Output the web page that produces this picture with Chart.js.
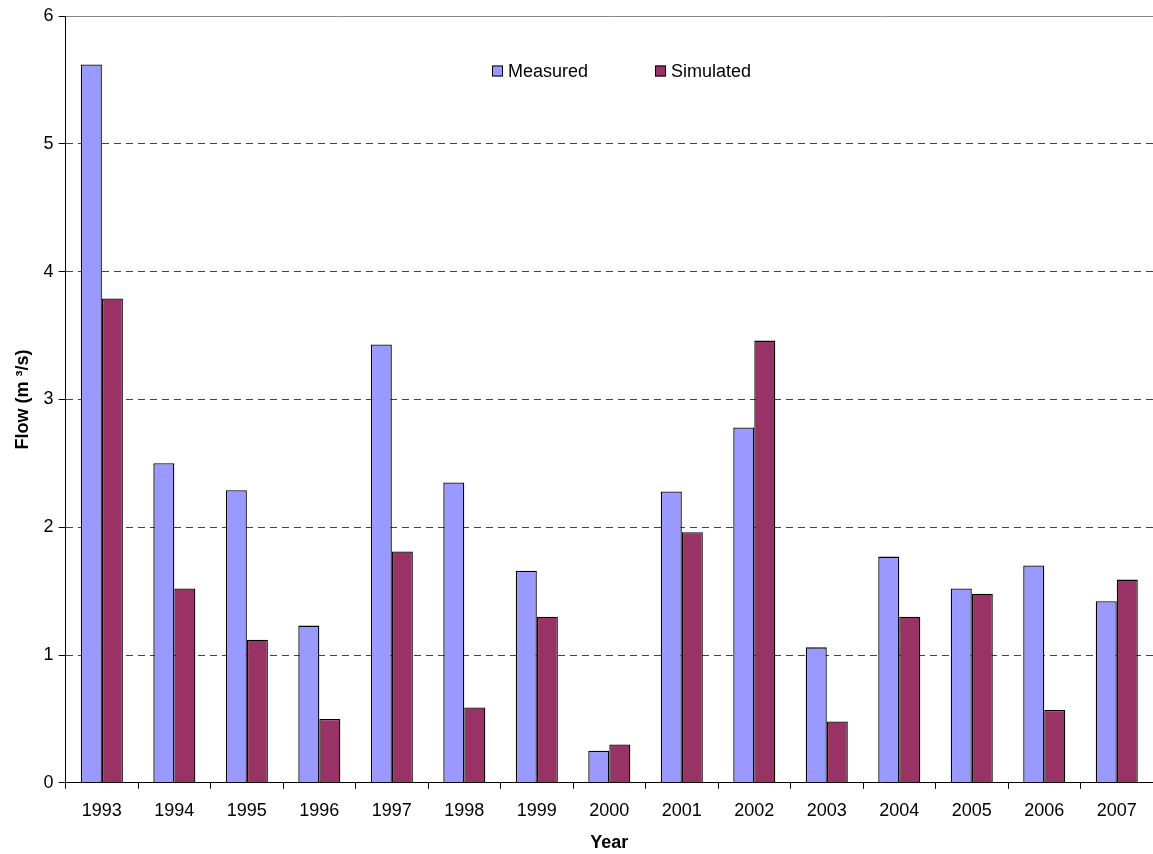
<!DOCTYPE html>
<html>
<head>
<meta charset="utf-8">
<script src="https://cdn.jsdelivr.net/npm/chart.js@4.4.1/dist/chart.umd.min.js"></script>
<style>
  html, body { margin: 0; padding: 0; background: #fff; }
</style>
</head>
<body>
<canvas id="chart" width="1153" height="854"></canvas>
<script>
const years = ['1993', '1994', '1995', '1996', '1997', '1998', '1999', '2000', '2001', '2002', '2003', '2004', '2005', '2006', '2007'];
const measured = [5.62, 2.50, 2.29, 1.23, 3.43, 2.35, 1.66, 0.25, 2.28, 2.78, 1.06, 1.77, 1.52, 1.70, 1.42];
const simulated = [3.79, 1.52, 1.12, 0.50, 1.81, 0.59, 1.30, 0.30, 1.96, 3.46, 0.48, 1.30, 1.48, 0.57, 1.59];
const yMin = 0, yMax = 6, yStep = 1;

const FONT = '"Liberation Sans", Arial, sans-serif';

// legend drawn inside the plot, near the top
const insideLegend = {
  id: 'insideLegend',
  afterDatasetsDraw(chart) {
    const ctx = chart.ctx;
    const area = chart.chartArea;
    const box = 11, gap = 5, spacing = 67;
    ctx.save();
    ctx.font = '18px ' + FONT;
    const items = chart.data.datasets.map(ds => ({ ds, w: box + gap + ctx.measureText(ds.label).width }));
    const total = items.reduce((s, it) => s + it.w, 0) + spacing * (items.length - 1);
    let x = Math.round((area.left + area.right) / 2 + 12 - total / 2);
    const y = area.top + 55;
    items.forEach(it => {
      ctx.fillStyle = it.ds.backgroundColor;
      ctx.fillRect(x, y - box / 2, box, box);
      ctx.strokeStyle = '#000';
      ctx.lineWidth = 1;
      ctx.strokeRect(x + 0.5, y - box / 2 + 0.5, box - 1, box - 1);
      ctx.fillStyle = '#000';
      ctx.textBaseline = 'middle';
      ctx.fillText(it.ds.label, x + box + gap, y + 1);
      x += it.w + spacing;
    });
    ctx.restore();
  }
};

new Chart(document.getElementById('chart'), {
  type: 'bar',
  data: {
    labels: years,
    datasets: [
      {
        label: 'Measured',
        data: measured,
        backgroundColor: '#9999FF',
        borderColor: '#000',
        borderWidth: 1.3,
        categoryPercentage: 0.58,
        barPercentage: 1.0
      },
      {
        label: 'Simulated',
        data: simulated,
        backgroundColor: '#993366',
        borderColor: '#000',
        borderWidth: 1.3,
        categoryPercentage: 0.58,
        barPercentage: 1.0
      }
    ]
  },
  options: {
    responsive: false,
    animation: false,
    layout: { padding: { top: 16, right: 0, left: 12, bottom: 0 } },
    plugins: {
      legend: { display: false },
      tooltip: { enabled: false }
    },
    scales: {
      x: {
        grid: {
          offset: true,
          drawOnChartArea: false,
          tickLength: 6,
          tickColor: '#000'
        },
        border: { color: '#000', width: 1 },
        ticks: { color: '#000', font: { family: FONT, size: 18 }, padding: 11, maxRotation: 0 },
        title: {
          display: true,
          text: 'Year',
          color: '#000',
          font: { family: FONT, size: 18, weight: 'bold' },
          padding: { top: 0, bottom: 0 }
        }
      },
      x2: {
        type: 'category',
        position: 'top',
        labels: years,
        grid: { display: false, drawTicks: false },
        ticks: { display: false },
        border: { color: '#888', width: 1 }
      },
      y: {
        min: yMin,
        max: yMax,
        ticks: { stepSize: yStep, color: '#000', font: { family: FONT, size: 18 }, padding: 5 },
        grid: {
          color: ctx => (ctx.tick && ctx.tick.value === yMax) || (ctx.tick && ctx.tick.value === yMin) ? 'rgba(0,0,0,0)' : '#444',
          tickColor: '#000',
          tickLength: 7,
          tickBorderDash: []
        },
        border: { color: '#000', width: 1, dash: [7, 5] },
        title: {
          display: true,
          text: 'Flow (m ³/s)',
          color: '#000',
          font: { family: FONT, size: 18, weight: 'bold' },
          padding: { top: 0, bottom: 5 }
        }
      }
    }
  },
  plugins: [insideLegend]
});
</script>
</body>
</html>
